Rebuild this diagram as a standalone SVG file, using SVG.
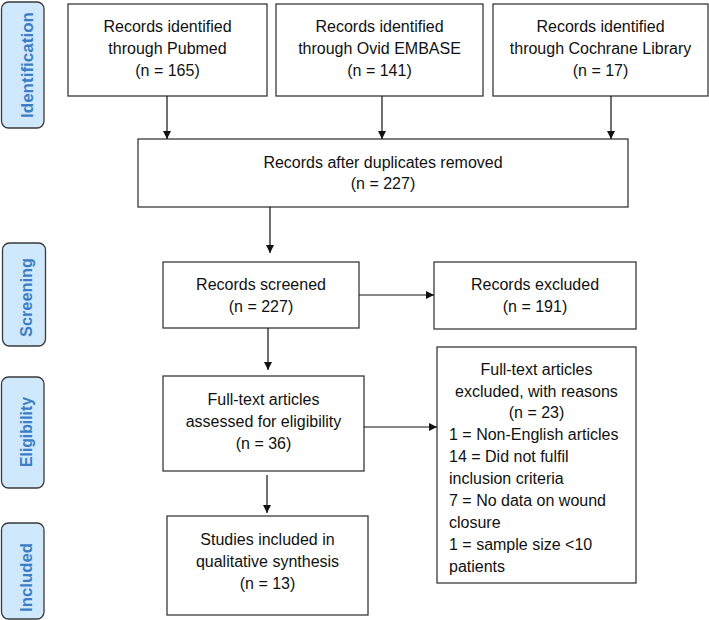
<svg xmlns="http://www.w3.org/2000/svg" width="709" height="620" viewBox="0 0 709 620">
<style>
.box{fill:#fff;stroke:#3a3a3a;stroke-width:1.3}
.lab{fill:#cfe8fb;stroke:#3a3a3a;stroke-width:1.3}
.t{font-family:"Liberation Sans",Arial,sans-serif;font-size:16px;fill:#111}
.c{text-anchor:middle}
.lt{font-family:"Liberation Sans",Arial,sans-serif;font-size:17px;font-weight:bold;fill:#3b7ec6;text-anchor:middle}
.ln{stroke:#111;stroke-width:1.2;fill:none}
</style>
<defs>
<marker id="ah" viewBox="0 0 10 10" refX="10" refY="5" markerWidth="8" markerHeight="8" markerUnits="userSpaceOnUse" orient="auto">
<path d="M0,0 L10,5 L0,10 z" fill="#111"/>
</marker>
</defs>
<g id="label-identification"><rect class="lab" x="1.5" y="2" width="42.5" height="126" rx="7"/><text class="lt" transform="translate(33,65) rotate(-90)" textLength="106" lengthAdjust="spacingAndGlyphs">Identification</text></g>
<g id="label-screening"><rect class="lab" x="2.5" y="243" width="43" height="103" rx="7"/><text class="lt" transform="translate(32,297.5) rotate(-90)" textLength="79" lengthAdjust="spacingAndGlyphs">Screening</text></g>
<g id="label-eligibility"><rect class="lab" x="1.5" y="377" width="42.5" height="111" rx="7"/><text class="lt" transform="translate(32,432) rotate(-90)" textLength="70" lengthAdjust="spacingAndGlyphs">Eligibility</text></g>
<g id="label-included"><rect class="lab" x="1.5" y="523" width="42.5" height="96" rx="7"/><text class="lt" transform="translate(32,577.5) rotate(-90)" textLength="69" lengthAdjust="spacingAndGlyphs">Included</text></g>

<g id="pubmed"><rect class="box" x="68" y="4" width="199" height="92"/>
<text class="t c" x="167.5" y="32">Records identified</text><text class="t c" x="167.5" y="54">through Pubmed</text><text class="t c" x="167.5" y="76">(n = 165)</text></g>
<g id="embase"><rect class="box" x="276" y="4" width="207" height="92"/>
<text class="t c" x="379.5" y="32">Records identified</text><text class="t c" x="379.5" y="54">through Ovid EMBASE</text><text class="t c" x="379.5" y="76">(n = 141)</text></g>
<g id="cochrane"><rect class="box" x="493" y="4" width="215" height="92"/>
<text class="t c" x="600.5" y="32">Records identified</text><text class="t c" x="600.5" y="54">through Cochrane Library</text><text class="t c" x="600.5" y="76">(n = 17)</text></g>
<g id="duplicates"><rect class="box" x="138" y="139" width="490" height="68"/>
<text class="t c" x="383" y="168">Records after duplicates removed</text><text class="t c" x="383" y="189">(n = 227)</text></g>
<g id="screened"><rect class="box" x="163" y="262" width="196" height="66"/>
<text class="t c" x="261" y="290">Records screened</text><text class="t c" x="261" y="312">(n = 227)</text></g>
<g id="excluded"><rect class="box" x="434" y="262" width="202" height="67"/>
<text class="t c" x="535" y="290">Records excluded</text><text class="t c" x="535" y="312">(n = 191)</text></g>
<g id="fulltext"><rect class="box" x="163" y="376" width="201" height="95"/>
<text class="t c" x="263.5" y="405">Full-text articles</text><text class="t c" x="263.5" y="427">assessed for eligibility</text><text class="t c" x="263.5" y="449">(n = 36)</text></g>
<g id="fulltext-excluded"><rect class="box" x="437" y="347" width="199" height="236"/>
<text class="t c" x="536.5" y="375">Full-text articles</text><text class="t c" x="536.5" y="397">excluded, with reasons</text><text class="t c" x="536.5" y="418">(n = 23)</text>
<text class="t" x="449" y="440">1 = Non-English articles</text><text class="t" x="449" y="462">14 = Did not fulfil</text><text class="t" x="449" y="484">inclusion criteria</text><text class="t" x="449" y="506">7 = No data on wound</text><text class="t" x="449" y="528">closure</text><text class="t" x="449" y="550">1 = sample size &lt;10</text><text class="t" x="449" y="572">patients</text></g>
<g id="included"><rect class="box" x="167" y="516" width="201" height="99"/>
<text class="t c" x="267.5" y="545">Studies included in</text><text class="t c" x="267.5" y="567">qualitative synthesis</text><text class="t c" x="267.5" y="589">(n = 13)</text></g>

<g id="connectors">
<line class="ln" x1="167" y1="96" x2="167" y2="139" marker-end="url(#ah)"/>
<line class="ln" x1="382" y1="96" x2="382" y2="139" marker-end="url(#ah)"/>
<line class="ln" x1="611" y1="96" x2="611" y2="139" marker-end="url(#ah)"/>
<line class="ln" x1="270" y1="207" x2="270" y2="253" marker-end="url(#ah)"/>
<line class="ln" x1="359" y1="295" x2="434" y2="295" marker-end="url(#ah)"/>
<line class="ln" x1="268" y1="328" x2="268" y2="370" marker-end="url(#ah)"/>
<line class="ln" x1="364" y1="427" x2="437" y2="427" marker-end="url(#ah)"/>
<line class="ln" x1="267" y1="475" x2="267" y2="513" marker-end="url(#ah)"/>
</g>
</svg>
